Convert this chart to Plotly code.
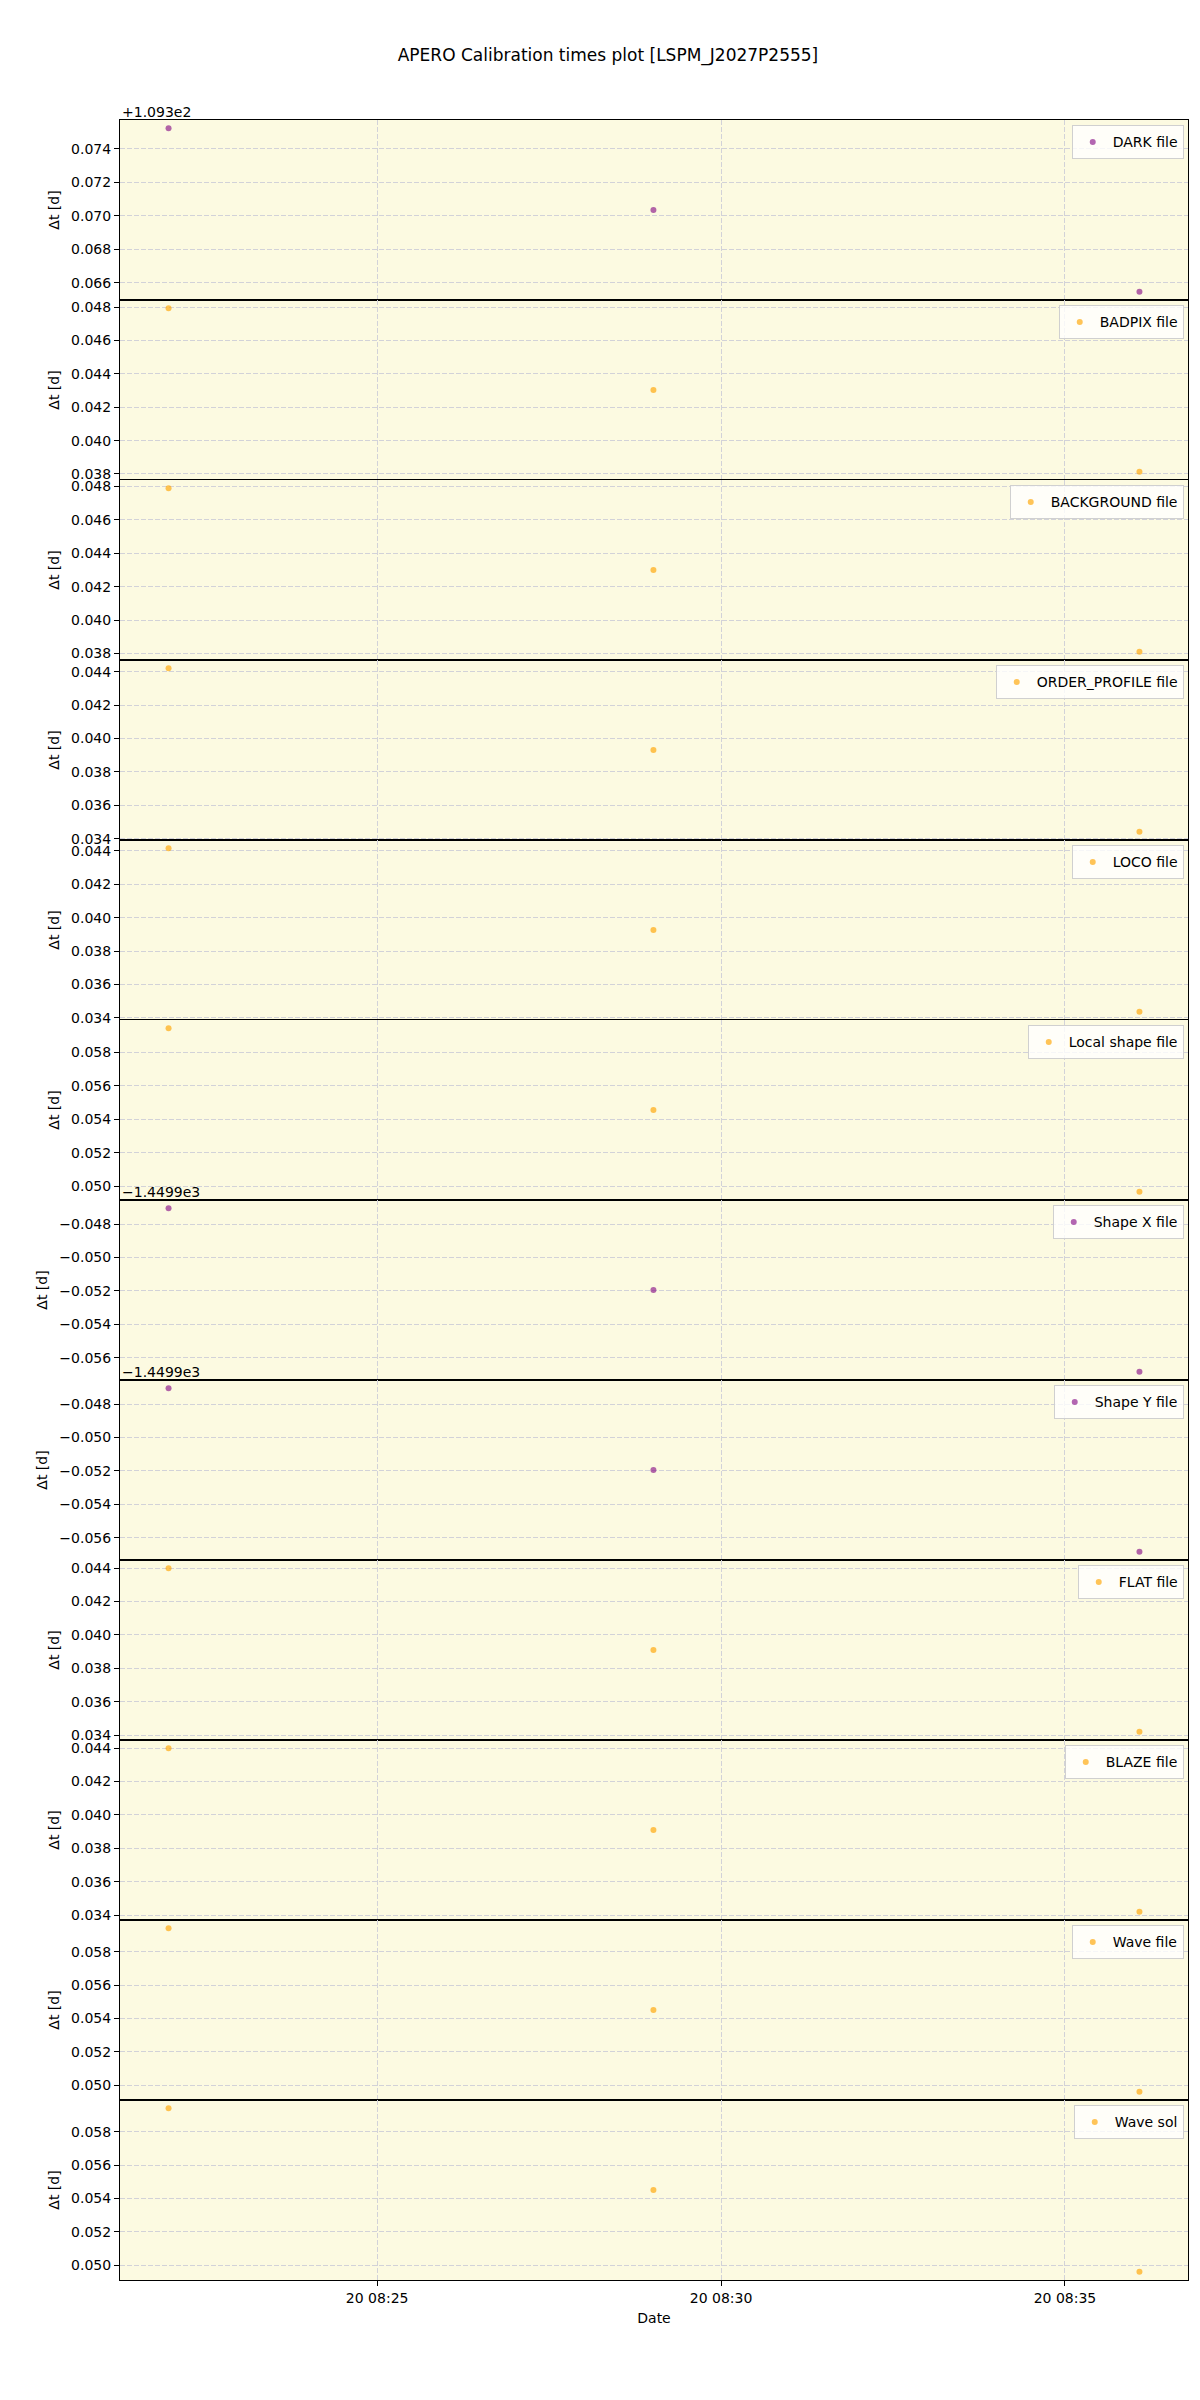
import pandas as pd
import plotly.graph_objects as go
from plotly.subplots import make_subplots

# ===== DADOS =====
obs_times = ["2023-09-20 08:21:58", "2023-09-20 08:29:01", "2023-09-20 08:36:05"]

dark_dt = [109.37524, 109.37036, 109.36547]
badpix_dt = [0.04794, 0.04304, 0.03813]
background_dt = [0.04790, 0.04300, 0.03810]
order_profile_dt = [0.04421, 0.03931, 0.03441]
loco_dt = [0.04416, 0.03926, 0.03436]
local_shape_dt = [0.05946, 0.05456, 0.04966]
shape_x_dt = [-1449.94705, -1449.95195, -1449.95685]
shape_y_dt = [-1449.94705, -1449.95195, -1449.95685]
flat_dt = [0.04400, 0.03910, 0.03420]
blaze_dt = [0.04400, 0.03910, 0.03420]
wave_file_dt = [0.05941, 0.05451, 0.04961]
wave_sol_dt = [0.05941, 0.05451, 0.04961]

labels = ["DARK file", "BADPIX file", "BACKGROUND file", "ORDER_PROFILE file",
          "LOCO file", "Local shape file", "Shape X file", "Shape Y file",
          "FLAT file", "BLAZE file", "Wave file", "Wave sol"]
series = [dark_dt, badpix_dt, background_dt, order_profile_dt, loco_dt,
          local_shape_dt, shape_x_dt, shape_y_dt, flat_dt, blaze_dt,
          wave_file_dt, wave_sol_dt]
# deslocamento do eixo (estilo offset do matplotlib)
offsets = [109.3, 0, 0, 0, 0, 0, -1449.9, -1449.9, 0, 0, 0, 0]
offset_text = ["+1.093e2", "", "", "", "", "", "\u22121.4499e3", "\u22121.4499e3",
               "", "", "", ""]
purple = "rgba(128,0,128,0.6)"
orange = "rgba(255,165,0,0.65)"
colors = [purple, orange, orange, orange, orange, orange, purple, purple,
          orange, orange, orange, orange]

n = len(labels)
font = "DejaVu Sans"
grid_color = "#d2d2d8"
grid_dash = "5px,2px"

fig = make_subplots(rows=n, cols=1, shared_xaxes=True, vertical_spacing=0)

times = pd.to_datetime(obs_times)
tspan = times.max() - times.min()
xrange = [times.min() - 0.05 * tspan, times.max() + 0.05 * tspan]

for i in range(n):
    yvals = [v - offsets[i] for v in series[i]]
    leg = "legend" if i == 0 else f"legend{i + 1}"
    fig.add_trace(
        go.Scatter(
            x=times, y=yvals, mode="markers", name=labels[i],
            marker=dict(color=colors[i], size=6),
            legend=leg, showlegend=True
        ),
        row=i + 1, col=1
    )
    ymin, ymax = min(yvals), max(yvals)
    span = ymax - ymin
    fig.update_yaxes(
        range=[ymin - 0.05 * span, ymax + 0.05 * span],
        dtick=0.002, tick0=0, tickformat=".3f",
        title_text="\u0394t [d]", title_font=dict(size=14, color="black"),
        title_standoff=8,
        showgrid=True, gridcolor=grid_color, griddash=grid_dash, gridwidth=1,
        showline=True, mirror=True, linecolor="black", linewidth=1.1,
        ticks="outside", ticklen=5, tickcolor="black",
        tickfont=dict(size=14, color="black"),
        zeroline=False,
        row=i + 1, col=1
    )
    top = 1 - i / n
    fig.update_layout(**{leg: dict(
        x=0.996, y=top - 0.0025, xanchor="right", yanchor="top",
        bgcolor="rgba(255,255,255,0.8)", bordercolor="#d0d0d0", borderwidth=1,
        font=dict(size=14, color="black", family=font),
        itemwidth=30,
    )})
    if offset_text[i]:
        fig.add_annotation(
            x=0, y=top, xref="paper", yref="paper", xanchor="left", yanchor="bottom",
            text=offset_text[i], showarrow=False, font=dict(size=14, color="black"),
            yshift=-2
        )

fig.update_xaxes(
    range=xrange, dtick=5 * 60 * 1000, tickformat="%d %H:%M",
    showgrid=True, gridcolor=grid_color, griddash=grid_dash, gridwidth=1,
    showline=True, mirror=True, linecolor="black", linewidth=1.1,
    zeroline=False, tickfont=dict(size=14, color="black")
)
fig.update_xaxes(ticks="outside", ticklen=5, tickcolor="black",
                 title_text="Date", title_font=dict(size=14, color="black"),
                 title_standoff=8, row=n, col=1)

fig.update_layout(
    width=1200, height=2400,
    margin=dict(l=112, r=20, t=112, b=128),
    title=dict(text="APERO Calibration times plot [LSPM_J2027P2555]",
               x=0.5, xanchor="center", y=1 - 47 / 2400, yanchor="middle",
               font=dict(size=17, color="black")),
    plot_bgcolor="#fcfae1",
    paper_bgcolor="white",
    font=dict(family=font, color="black"),
)

fig.write_html("out.html")
